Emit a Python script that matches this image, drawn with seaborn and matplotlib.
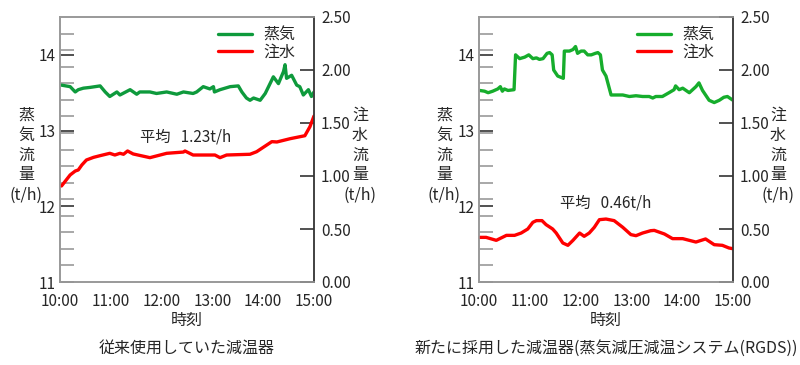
import numpy as np
import pandas as pd
import matplotlib
matplotlib.use("Agg")
import matplotlib.pyplot as plt
import seaborn as sns

sns.set_theme(style="white")
plt.rcParams['font.family'] = ['Noto Sans CJK JP', 'DejaVu Sans']

# ---------------- data ----------------
# Left panel (conventional desuperheater)
old_steam_t = [10.03, 10.20, 10.30, 10.36, 10.46, 10.59, 10.79, 10.89, 10.98, 11.12, 11.18, 11.38,
               11.51, 11.57, 11.77, 11.90, 12.10, 12.30, 12.43, 12.62, 12.69, 12.82, 12.95, 13.02,
               13.04, 13.15, 13.35, 13.51, 13.58, 13.67, 13.74, 13.81, 13.94, 14.04, 14.20, 14.30,
               14.40, 14.43, 14.46, 14.56, 14.66, 14.72, 14.79, 14.89, 14.95, 15.00]
old_steam = [13.60, 13.58, 13.51, 13.54, 13.56, 13.57, 13.59, 13.51, 13.45, 13.51, 13.47, 13.54,
             13.48, 13.51, 13.51, 13.49, 13.51, 13.48, 13.51, 13.49, 13.51, 13.58, 13.55, 13.58,
             13.51, 13.54, 13.58, 13.59, 13.51, 13.43, 13.40, 13.43, 13.40, 13.49, 13.71, 13.62,
             13.78, 13.87, 13.69, 13.73, 13.60, 13.58, 13.47, 13.54, 13.45, 13.51]
old_water_t = [10.03, 10.20, 10.30, 10.36, 10.43, 10.52, 10.66, 10.79, 10.98, 11.08, 11.18, 11.25,
               11.33, 11.44, 11.77, 12.10, 12.43, 12.46, 12.62, 13.05, 13.15, 13.28, 13.74, 13.87,
               14.17, 14.27, 14.53, 14.82, 14.92, 15.00]
old_water = [0.906, 1.010, 1.047, 1.057, 1.104, 1.151, 1.176, 1.192, 1.214, 1.198, 1.214, 1.205,
             1.236, 1.208, 1.173, 1.214, 1.226, 1.236, 1.198, 1.198, 1.173, 1.198, 1.205, 1.229,
             1.324, 1.321, 1.352, 1.380, 1.465, 1.566]

# Right panel (RGDS)
new_steam_t = [10.01, 10.11, 10.18, 10.27, 10.37, 10.42, 10.46, 10.50, 10.57, 10.69, 10.72, 10.80,
               10.90, 10.98, 11.06, 11.13, 11.19, 11.26, 11.34, 11.39, 11.44, 11.47, 11.55, 11.66,
               11.68, 11.78, 11.85, 11.90, 11.94, 12.01, 12.07, 12.14, 12.21, 12.29, 12.34, 12.39,
               12.43, 12.50, 12.60, 12.70, 12.83, 12.96, 13.09, 13.22, 13.35, 13.42, 13.48, 13.61,
               13.74, 13.84, 13.87, 13.94, 14.01, 14.14, 14.27, 14.33, 14.40, 14.53, 14.63, 14.73,
               14.82, 14.89, 15.00]
new_steam = [13.53, 13.52, 13.50, 13.52, 13.55, 13.58, 13.52, 13.55, 13.53, 13.54, 14.00, 13.95,
             13.97, 14.00, 13.95, 13.96, 13.94, 13.95, 14.02, 14.03, 14.00, 13.80, 13.72, 13.69,
             14.05, 14.05, 14.07, 14.11, 14.02, 14.05, 14.05, 14.00, 14.00, 14.02, 14.03, 14.00,
             13.80, 13.72, 13.47, 13.47, 13.47, 13.45, 13.46, 13.45, 13.45, 13.43, 13.45, 13.45,
             13.50, 13.54, 13.59, 13.54, 13.56, 13.50, 13.58, 13.63, 13.53, 13.40, 13.37, 13.40,
             13.44, 13.45, 13.40]
new_water_t = [10.01, 10.14, 10.34, 10.54, 10.70, 10.83, 10.96, 11.06, 11.13, 11.24, 11.32, 11.45,
               11.52, 11.65, 11.75, 11.85, 11.98, 12.07, 12.17, 12.27, 12.37, 12.50, 12.66, 12.83,
               12.99, 13.09, 13.22, 13.38, 13.45, 13.65, 13.81, 14.01, 14.14, 14.27, 14.46, 14.63,
               14.79, 14.92, 15.00]
new_water = [0.421, 0.421, 0.393, 0.440, 0.440, 0.462, 0.500, 0.563, 0.579, 0.579, 0.541, 0.500,
             0.462, 0.368, 0.346, 0.393, 0.462, 0.431, 0.462, 0.516, 0.588, 0.594, 0.579, 0.516,
             0.447, 0.437, 0.462, 0.484, 0.487, 0.453, 0.409, 0.409, 0.393, 0.377, 0.406, 0.352,
             0.346, 0.321, 0.314]

x_ticks = [10, 11, 12, 13, 14, 15]
x_labels = ["10:00", "11:00", "12:00", "13:00", "14:00", "15:00"]
left_ticks = [11, 12, 13, 14]
right_ticks = [0.0, 0.5, 1.0, 1.5, 2.0, 2.5]
right_labels = ["0.00", "0.50", "1.00", "1.50", "2.00", "2.50"]

panels = [
    dict(st=old_steam_t, sv=old_steam, wt=old_water_t, wv=old_water,
         green="#0e9a3c", avg="平均   1.23t/h", avg_xy=(0.315, 0.547),
         caption="従来使用していた減温器"),
    dict(st=new_steam_t, sv=new_steam, wt=new_water_t, wv=new_water,
         green="#16ad2c", avg="平均   0.46t/h", avg_xy=(0.318, 0.30),
         caption="新たに採用した減温器(蒸気減圧減温システム(RGDS))"),
]

fig = plt.figure(figsize=(8, 3.65), dpi=100)
FS = 11.5
TFS = 11
lefts = [60 / 800, 479 / 800]
W = 254 / 800
B = (365 - 282) / 365
H = 265 / 365

for i, p in enumerate(panels):
    ax = fig.add_axes([lefts[i], B, W, H])
    ax2 = ax.twinx()
    df_s = pd.DataFrame({"t": p["st"], "v": p["sv"]})
    df_w = pd.DataFrame({"t": p["wt"], "v": p["wv"]})
    sns.lineplot(data=df_s, x="t", y="v", ax=ax, color=p["green"], lw=2.4, label="蒸気")
    sns.lineplot(data=df_w, x="t", y="v", ax=ax2, color="#ff0000", lw=2.4, label="注水")

    ax.set_xlim(10, 15)
    ax.set_ylim(11, 14.5)
    ax2.set_ylim(0, 2.5)
    ax.set_xlabel("")
    ax.set_ylabel("")
    ax2.set_ylabel("")

    ax.set_xticks(x_ticks)
    ax.set_xticklabels(x_labels, fontsize=TFS)
    ax.set_yticks(left_ticks)
    ax.set_yticklabels([str(v) for v in left_ticks], fontsize=TFS)
    ax.set_yticks(np.linspace(11, 14.5, 17)[1:-1], minor=True)
    ax2.set_yticks(right_ticks)
    ax2.set_yticklabels(right_labels, fontsize=TFS)

    ax.tick_params(axis="x", direction="in", length=5, width=1, color="#333333", pad=8)
    ax.tick_params(axis="y", which="major", direction="in", length=10, width=1.2,
                   color="#333333", pad=3)
    ax.tick_params(axis="y", which="minor", direction="in", length=10, width=1.2,
                   color="#999999", left=True)
    ax2.tick_params(axis="y", direction="in", length=10, width=1.2, color="#333333", pad=5)

    for a in (ax, ax2):
        for s in a.spines.values():
            s.set_visible(True)
            s.set_color("#999999")
            s.set_linewidth(1.2)
    ax2.spines["right"].set_color("#333333")

    if ax.get_legend():
        ax.get_legend().remove()
    if ax2.get_legend():
        ax2.get_legend().remove()
    h1, l1 = ax.get_legend_handles_labels()
    h2, l2 = ax2.get_legend_handles_labels()
    ax2.legend(h1 + h2, l1 + l2, loc="upper right", bbox_to_anchor=(0.965, 1.0),
               frameon=False, fontsize=FS, handlelength=2.1, handletextpad=0.75,
               labelspacing=0.0, borderaxespad=0.2)

    ax2.text(p["avg_xy"][0], p["avg_xy"][1], p["avg"], transform=ax.transAxes,
             fontsize=FS - 0.5, ha="left", va="center")

    # axis titles
    cx = lefts[i] + W / 2
    fig.text(cx, 1 - 320 / 365, "時刻", ha="center", va="center", fontsize=FS)
    fig.text(cx, 1 - 348 / 365, p["caption"], ha="center", va="center", fontsize=FS)

    lx = [26, 444][i] / 800
    rx = [360, 778][i] / 800
    for j, ch in enumerate("蒸気流量"):
        fig.text(lx, 1 - (115 + 20 * j) / 365, ch, ha="center", va="center", fontsize=FS)
    fig.text(lx, 1 - 195 / 365, "(t/h)", ha="center", va="center", fontsize=FS)
    for j, ch in enumerate("注水流量"):
        fig.text(rx, 1 - (115 + 20 * j) / 365, ch, ha="center", va="center", fontsize=FS)
    fig.text(rx, 1 - 195 / 365, "(t/h)", ha="center", va="center", fontsize=FS)

fig.savefig("out.png", dpi=100, facecolor="white")
